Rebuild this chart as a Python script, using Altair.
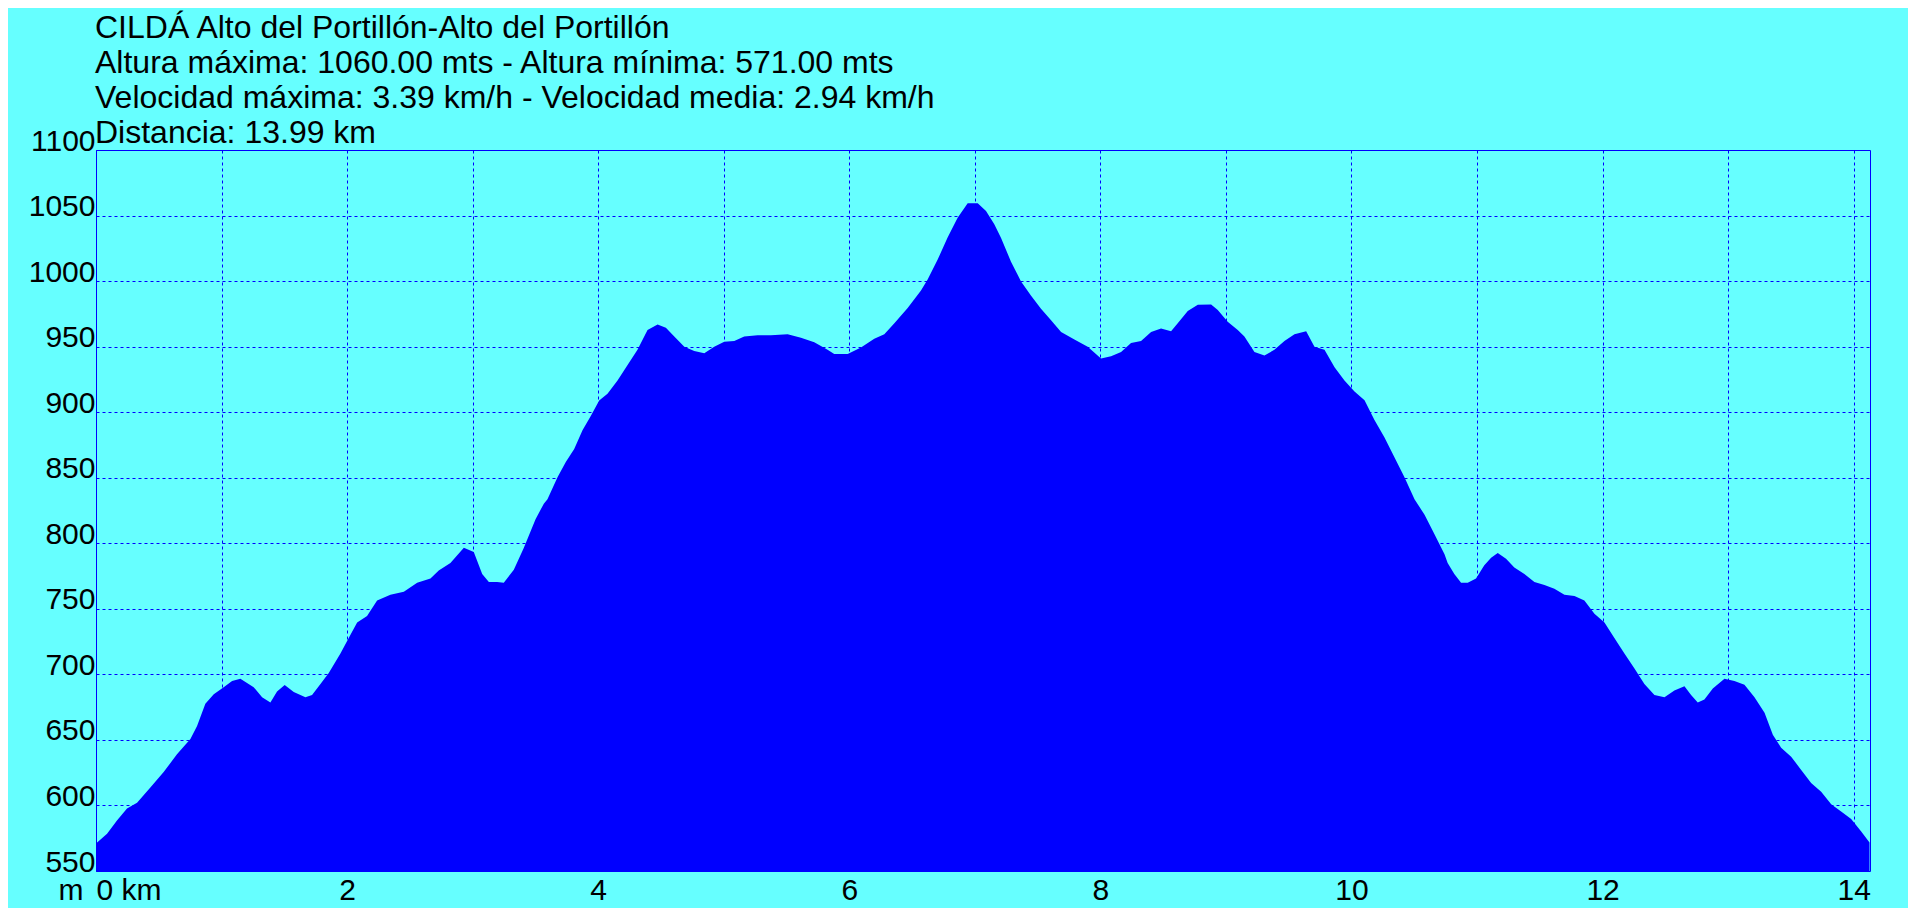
import altair as alt
import pandas as pd

km = [0, 0.088, 0.167, 0.247, 0.327, 0.433, 0.539, 0.645, 0.752, 0.805, 0.871, 0.938,
      1.017, 1.084, 1.150, 1.256, 1.323, 1.389, 1.442, 1.503, 1.575, 1.668, 1.721, 1.788,
      1.854, 1.947, 2.013, 2.080, 2.159, 2.239, 2.345, 2.452, 2.558, 2.664, 2.730, 2.823,
      2.930, 3.009, 3.076, 3.129, 3.195, 3.248, 3.328, 3.408, 3.501, 3.567, 3.596, 3.676,
      3.742, 3.809, 3.875, 3.942, 4.008, 4.074, 4.154, 4.234, 4.313, 4.393, 4.473, 4.539,
      4.606, 4.686, 4.765, 4.845, 4.924, 5.004, 5.084, 5.163, 5.270, 5.376, 5.509, 5.615,
      5.721, 5.827, 5.880, 5.987, 6.093, 6.199, 6.279, 6.359, 6.465, 6.571, 6.624, 6.704,
      6.783, 6.863, 6.943, 7.023, 7.089, 7.155, 7.208, 7.288, 7.368, 7.448, 7.527, 7.607,
      7.687, 7.793, 7.899, 8.005, 8.085, 8.165, 8.244, 8.324, 8.404, 8.483, 8.563, 8.616,
      8.696, 8.776, 8.882, 8.935, 9.014, 9.094, 9.147, 9.227, 9.307, 9.386, 9.466, 9.546,
      9.639, 9.705, 9.785, 9.865, 9.944, 10.024, 10.104, 10.183, 10.263, 10.343, 10.422,
      10.502, 10.582, 10.662, 10.741, 10.766, 10.819, 10.873, 10.926, 10.992, 11.058,
      11.112, 11.165, 11.231, 11.297, 11.377, 11.457, 11.537, 11.616, 11.696, 11.776,
      11.855, 11.935, 12.015, 12.094, 12.174, 12.254, 12.333, 12.413, 12.493, 12.572,
      12.652, 12.705, 12.758, 12.811, 12.878, 12.971, 13.050, 13.130, 13.210, 13.290,
      13.356, 13.422, 13.502, 13.582, 13.661, 13.741, 13.821, 13.900, 13.980, 14.060, 14.126]

alt_m = [571, 578.5, 588.6, 597.6, 602, 613.7, 625.5, 639, 650.6, 660.7, 677.5, 684.9,
         690.2, 695, 696.6, 690.2, 682.5, 678.5, 686.9, 691.9, 686.5, 682.5, 684.2, 692.6,
         701, 716, 727.8, 739.6, 744.6, 756.4, 760.7, 763.1, 769.8, 773.1, 779.2, 784.9,
         796.6, 793.3, 776.5, 770.5, 770.5, 769.8, 779.8, 796.6, 818.4, 830.2, 833.5, 850.3,
         862, 872, 886.2, 897.3, 909, 914, 924.2, 935.9, 947.6, 962.7, 966.8, 964.4,
         957.7, 950, 946.6, 945, 950, 953.7, 954.3, 957.7, 958.7, 958.7, 959.4, 956.7,
         953.3, 947.6, 944.3, 944.3, 949.3, 956, 959.4, 967.8, 979.5, 992.9, 1001.3, 1016.4,
         1033.2, 1048.3, 1059.4, 1059.4, 1053.4, 1043.3, 1033, 1014.8, 999.7, 988.9, 978.9, 970.2,
         961.1, 955.4, 950, 940.9, 942.6, 946, 952.7, 954.3, 961.1, 963.8, 961.7, 967.8,
         977.2, 981.9, 982.2, 977.9, 968.9, 962.7, 957.7, 946, 943.3, 947.6, 954.3, 959.4,
         961.7, 950, 947.6, 934.2, 924.2, 915.8, 909.1, 894, 880.6, 865.5, 850.3,
         833.5, 821.8, 806.7, 791.6, 785, 776.5, 769.8, 769.8, 773.1, 783.2,
         789, 792.6, 788.2, 781.5, 776.5, 770.5, 768.1, 765.4, 760.7, 759.7,
         756.4, 746.3, 739.6, 727.8, 716, 704.4, 692.6, 684.2, 682.5, 687.6,
         690.9, 684.2, 678.5, 680.9, 689.3, 696.6, 695, 692, 682.5, 670.8,
         654, 644, 637.2, 627.1, 617.1, 610.4, 601, 595.3, 589.6, 580.2, 571.8]

title_lines = [
    "CILDÁ Alto del Portillón-Alto del Portillón",
    "Altura máxima: 1060.00 mts - Altura mínima: 571.00 mts",
    "Velocidad máxima: 3.39 km/h - Velocidad media: 2.94 km/h",
    "Distancia: 13.99 km",
]

y_ticks = list(range(550, 1101, 50))
x_ticks = list(range(0, 15))

BLUE = "#0000FF"
BG = "#66FFFF"
FONT = "Liberation Sans"

df = pd.DataFrame({"km": km, "alt": alt_m})

area = alt.Chart(df).mark_area(color=BLUE, opacity=1, interpolate="linear").encode(
    x=alt.X("km:Q",
            scale=alt.Scale(domain=[0, 14.13], nice=False, zero=False),
            axis=alt.Axis(values=x_ticks, title=None, grid=True,
                          labelExpr="datum.value == 0 ? '0 km' : (datum.value % 2 == 0 ? datum.label : '')",
                          labelFlush=True, labelPadding=4, labelBaseline="top",
                          tickSize=0, domain=False)),
    y=alt.Y("alt:Q",
            scale=alt.Scale(domain=[550, 1100], nice=False, zero=False),
            axis=alt.Axis(values=y_ticks, title="m", grid=True, labelFlush=False, format="d",
                          labelBaseline="alphabetic", labelPadding=1, tickSize=0, domain=False,
                          titleAngle=0, titleX=-38, titleY=749, titleAlign="left",
                          titleBaseline="alphabetic", titleFont=FONT, titleFontSize=30,
                          titleFontWeight="normal", titleColor="black")),
    y2=alt.datum(550),
)

title_df = pd.DataFrame({"row": [0]})
title = alt.Chart(title_df).mark_text(
    text=title_lines, align="left", baseline="alphabetic", fontSize=32,
    lineHeight=35, font=FONT, color="black"
).encode(x=alt.value(-1), y=alt.value(-112))

chart = alt.layer(area, title).properties(
    width=1774, height=721,
    background=BG,
    padding={"left": 88, "top": 142, "right": 38, "bottom": 37},
    autosize=alt.AutoSizeParams(type="none"),
).configure_view(
    stroke=BLUE, strokeWidth=1, fill=BG
).configure_axis(
    gridColor=BLUE, gridDash=[3, 3], gridOpacity=1, gridWidth=1,
    labelFont=FONT, labelFontSize=30, labelColor="black",
)

chart.save("out.html", embed_options={"renderer": "svg", "actions": False})
